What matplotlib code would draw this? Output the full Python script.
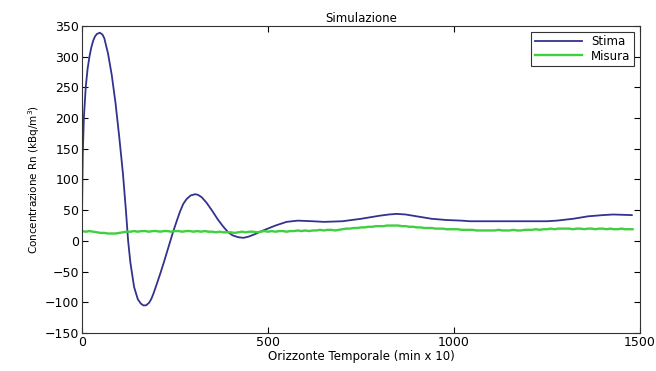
import matplotlib.pyplot as plt

# Stima (estimate) curve
stima_t = [0, 2, 5, 10, 15, 20, 25, 30, 35, 40, 48, 55, 60, 70, 80, 90, 100, 110, 118,
           124, 130, 140, 150, 158, 165, 172, 180, 186, 192, 200, 210, 220, 228, 237,
           245, 255, 263, 272, 281, 292, 304, 312, 322, 335, 350, 365, 380, 393,
           405, 420, 434, 448, 465, 487, 520, 550, 580, 620, 650, 700, 750, 800, 825,
           846, 870, 900, 940, 980, 1020, 1043, 1100, 1150, 1200, 1250, 1276, 1320,
           1360, 1400, 1428, 1478]
stima_v = [40, 140, 200, 250, 280, 300, 315, 326, 333, 337, 339, 336, 330, 305, 270, 225,
           170, 110, 50, 0, -35, -75, -95, -102, -105, -105, -101, -95, -86, -72, -54,
           -35, -19, -1, 15, 33, 47, 60, 68, 74, 76, 75, 71, 62, 49, 35, 23, 14, 9,
           6, 5, 7, 11, 17, 25, 31, 33, 32, 31, 32, 36, 41, 43, 44, 43, 40, 36, 34, 33,
           32, 32, 32, 32, 32, 33, 36, 40, 42, 43, 42]

# Misura (measurement), one value every 10 units
misura_t = list(range(0, 1490, 10))
misura_v = [16, 15, 16, 15, 14, 13, 13, 12, 12, 12,
            13, 14, 15, 15, 16, 15, 16, 16, 15, 16,
            16, 15, 16, 16, 15, 16, 16, 15, 16, 16,
            15, 16, 15, 16, 15, 15, 14, 15, 14, 14,
            14, 13, 14, 15, 14, 15, 15, 14, 15, 16,
            15, 16, 15, 16, 16, 15, 16, 16, 17, 16,
            17, 16, 17, 17, 18, 17, 18, 18, 17, 18,
            19, 20, 20, 21, 21, 22, 22, 23, 23, 24,
            24, 24, 25, 25, 25, 25, 24, 24, 23, 23,
            22, 22, 21, 21, 21, 20, 20, 20, 19, 19,
            19, 19, 18, 18, 18, 18, 17, 17, 17, 17,
            17, 17, 18, 17, 17, 17, 18, 17, 17, 18,
            18, 18, 19, 18, 19, 19, 20, 19, 20, 20,
            20, 20, 19, 20, 20, 19, 20, 20, 19, 20,
            20, 19, 20, 19, 19, 20, 19, 19, 19]

plt.rcParams['font.family'] = 'DejaVu Sans'

fig = plt.figure(figsize=(6.56, 3.71), dpi=100)
ax = fig.add_axes([0.125, 0.1024, 0.8506, 0.8276])

ax.plot(stima_t, stima_v, color='#32328f', linewidth=1.3, label='Stima')
ax.plot(misura_t, misura_v, color='#3fcf3f', linewidth=1.7, label='Misura')

ax.set_xlim(0, 1500)
ax.set_ylim(-150, 350)
ax.set_xticks([0, 500, 1000, 1500])
ax.set_yticks(range(-150, 351, 50))
ax.tick_params(direction='in', top=True, right=True, length=4, labelsize=9, pad=2)
for s in ax.spines.values():
    s.set_color('#333333')

ax.set_title('Simulazione', fontsize=8.5, pad=3)
ax.set_xlabel('Orizzonte Temporale (min x 10)', fontsize=8.5, labelpad=1)
ax.set_ylabel('Concentrazione Rn (kBq/m$^3$)', fontsize=7.5, labelpad=2)

leg = ax.legend(loc='upper right', fontsize=8.5, fancybox=False, framealpha=1,
                edgecolor='#333333', handlelength=4, borderpad=0.3, labelspacing=0.1,
                borderaxespad=0.5)
leg.get_frame().set_linewidth(0.8)

fig.savefig('out.png', dpi=100)
